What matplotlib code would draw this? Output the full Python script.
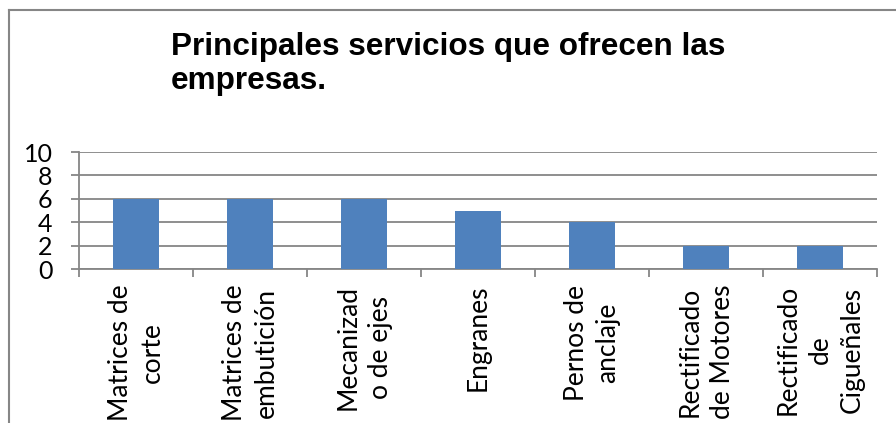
import numpy as np
import matplotlib
matplotlib.use('Agg')
import matplotlib.pyplot as plt
from matplotlib.lines import Line2D

##### data ####
categories = ["Matrices de\ncorte", "Matrices de\nembutición", "Mecanizad\no de ejes",
              "Engranes", "Pernos de\nanclaje", "Rectificado\nde Motores",
              "Rectificado\nde\nCigueñales"]
values = [6, 6, 6, 5, 4, 2, 2]
y_ticks = [0, 2, 4, 6, 8, 10]
title_lines = ["Principales servicios que ofrecen las", "empresas."]

W, H = 896, 423
fig = plt.figure(figsize=(W / 100, H / 100), dpi=100)
fig.patch.set_facecolor('white')

# outer chart border (runs off the right/bottom of the image)
border = '#868686'
fig.add_artist(Line2D([9 / W, 9 / W], [0, 1 - 10 / H], transform=fig.transFigure,
                      color=border, lw=1.5))
fig.add_artist(Line2D([9 / W, 1], [1 - 10 / H, 1 - 10 / H], transform=fig.transFigure,
                      color=border, lw=1.5))

# title, one text per line so each baseline can be placed
for txt, base in zip(title_lines, [55, 89]):
    fig.text(171 / W, 1 - base / H, txt, fontsize=22.7, fontweight='bold',
             family='Liberation Sans', va='baseline', ha='left')

ax = fig.add_axes([79 / W, 1 - 269.3 / H, (877 - 79) / W, (269.3 - 152) / H])
x = np.arange(len(categories))
ax.bar(x, values, width=0.4, color='#4F81BD', zorder=3)

ax.set_xlim(-0.5, len(categories) - 0.5)
ax.set_ylim(0, 10)
ax.set_yticks(y_ticks)
ax.yaxis.grid(True, color=border, lw=1.3, zorder=0)

for s in ['top', 'right']:
    ax.spines[s].set_visible(False)
for s in ['left', 'bottom']:
    ax.spines[s].set_color(border)
    ax.spines[s].set_linewidth(1.3)

# labels at centers, tick marks at category boundaries
ax.set_xticks(x)
ax.set_xticklabels(categories, rotation=90, ha='center', va='top',
                   multialignment='center', family='Lato', fontsize=19,
                   linespacing=1.35)
ax.set_xticks(np.arange(len(categories) + 1) - 0.5, minor=True)
ax.tick_params(axis='x', which='major', length=0, pad=11)
ax.tick_params(axis='x', which='minor', length=6, width=1.3, color=border)
ax.tick_params(axis='y', length=6, width=1.3, color=border, pad=13)
for lbl in ax.get_yticklabels():
    lbl.set_family('Lato')
    lbl.set_fontsize(18)

fig.savefig('out.png', dpi=100)
